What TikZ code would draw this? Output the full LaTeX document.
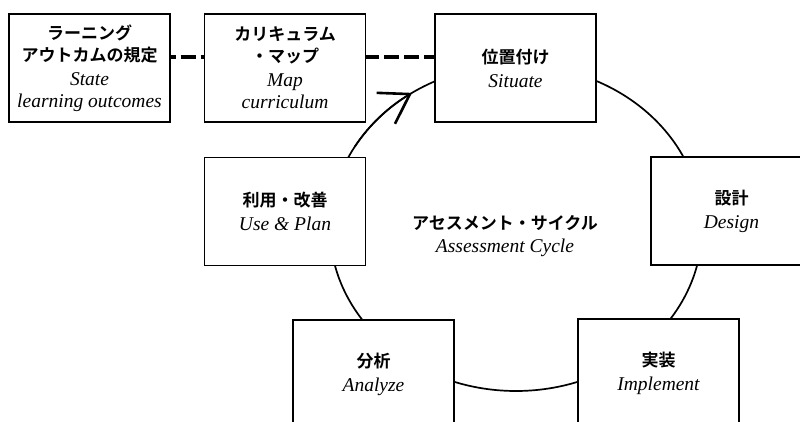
\documentclass[tikz,border=0pt]{standalone}
\usepackage{fontspec}
\setmainfont{Liberation Serif}
\newfontfamily\jp{Noto Sans CJK JP}[BoldFont={Noto Sans CJK JP Bold}]
\usetikzlibrary{arrows.meta}

\tikzset{
  stagebox/.style={draw, fill=white, line width=1.4pt, minimum width=161pt,
    minimum height=108pt, inner sep=0pt, align=center,
    font=\fontsize{19.5}{22}\selectfont},
  plain/.style={inner sep=0pt, align=center, font=\fontsize{19.5}{22}\selectfont},
  linkline/.style={line width=4pt, dash pattern=on 15pt off 5pt},
  cycleline/.style={line width=1.7pt},
}
\newcommand{\jl}[1]{{\jp\bfseries\fontsize{17}{22}\selectfont #1}}
\newcommand{\el}[1]{{\itshape #1}}

\begin{document}
\begin{tikzpicture}[x=1pt, y=-1pt]
  \useasboundingbox (0,0) rectangle (800,422);
  \clip (0,0) rectangle (800,422);

  % the assessment cycle itself
  \coordinate (cyc) at (516,228);
  \draw[cycleline] (cyc) ellipse [x radius=186pt, y radius=163pt];
  \draw[cycleline, -{Straight Barb[length=28pt, width=36pt, line width=2.6pt]}]
    (cyc) ++(150:186pt and 163pt)
    arc[start angle=150, end angle=124, x radius=186pt, y radius=163pt];

  % stage boxes
  \node[stagebox] (state) at (89.5,68)
    {\jl{ラーニング}\\\jl{アウトカムの規定}\\[2pt]\el{State}\\\el{learning outcomes}};
  \node[stagebox] (map) at (285,68)
    {\jl{カリキュラム}\\\jl{・マップ}\\[2pt]\el{Map}\\\el{curriculum}};
  \node[stagebox] (situate) at (515.5,68)
    {\jl{位置付け}\\[2pt]\el{Situate}};
  \node[stagebox] (use) at (285,211.5)
    {\jl{利用・改善}\\[2pt]\el{Use \& Plan}};
  \node[stagebox] (design) at (731.5,211)
    {\jl{設計}\\[2pt]\el{Design}};
  \node[stagebox] (analyze) at (373.5,374)
    {\jl{分析}\\[2pt]\el{Analyze}};
  \node[stagebox] (implement) at (658.5,373)
    {\jl{実装}\\[2pt]\el{Implement}};

  % title in the middle of the cycle
  \node[plain] (title) at (505,236)
    {\jl{アセスメント・サイクル}\\[1pt]\el{Assessment Cycle}};

  % dashed links along the top row
  \draw[linkline, dash phase=10pt] ([yshift=11pt]state.east) -- ([yshift=11pt]map.west);
  \draw[linkline, dash phase=2pt] ([yshift=11pt]map.east) -- ([yshift=11pt]situate.west);
\end{tikzpicture}
\end{document}
